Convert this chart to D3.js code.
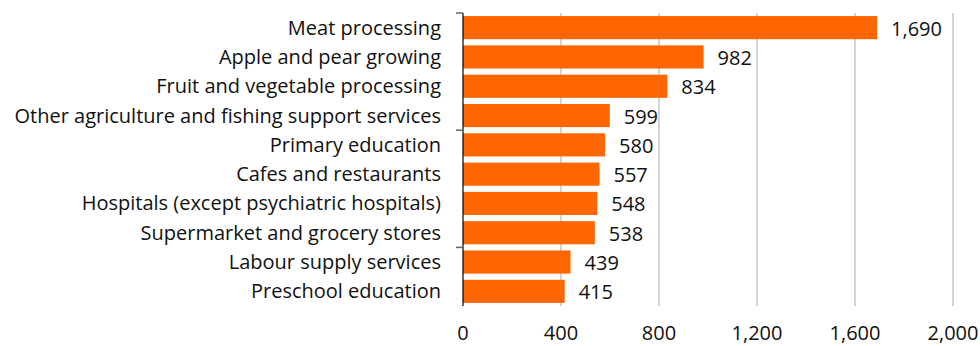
<!DOCTYPE html>
<html>
<head>
<meta charset="utf-8">
<script src="https://cdn.jsdelivr.net/npm/d3@7"></script>
<style>
  html, body { margin: 0; padding: 0; background: #fff; }
  svg text { font-family: "Open Sans", "Noto Sans", sans-serif; fill: #111; }
</style>
</head>
<body>
<svg id="chart" width="980" height="346"></svg>
<script>
// Employment by industry
const categories = [
  "Meat processing",
  "Apple and pear growing",
  "Fruit and vegetable processing",
  "Other agriculture and fishing support services",
  "Primary education",
  "Cafes and restaurants",
  "Hospitals (except psychiatric hospitals)",
  "Supermarket and grocery stores",
  "Labour supply services",
  "Preschool education"
];
const values = [1690, 982, 834, 599, 580, 557, 548, 538, 439, 415];
const xTicks = [0, 400, 800, 1200, 1600, 2000];

const svg = d3.select("#chart");
const margin = { left: 463, right: 27, top: 13, bottom: 40 };
const W = 980, H = 346;
const fontSize = 20;

const x = d3.scaleLinear().domain([0, 2000]).range([margin.left, W - margin.right]);
const y = d3.scaleBand().domain(categories).range([margin.top, H - margin.bottom])
  .paddingInner(0.21).paddingOuter(0.105);

// vertical gridlines
svg.append("g").selectAll("line")
  .data(xTicks.filter(d => d > 0))
  .join("line")
  .attr("x1", d => x(d)).attr("x2", d => x(d))
  .attr("y1", margin.top).attr("y2", H - margin.bottom)
  .attr("stroke", "#c6c6c6").attr("stroke-width", 1.5);

// bars
svg.append("g").selectAll("rect")
  .data(values)
  .join("rect")
  .attr("x", x(0))
  .attr("y", (d, i) => y(categories[i]))
  .attr("width", d => x(d) - x(0))
  .attr("height", y.bandwidth())
  .attr("fill", "#ff6600");

// value labels
const fmt = d3.format(",");
svg.append("g").selectAll("text")
  .data(values)
  .join("text")
  .attr("x", d => x(d) + 14)
  .attr("y", (d, i) => y(categories[i]) + y.bandwidth() / 2 + 1)
  .attr("dy", "0.35em")
  .attr("font-size", fontSize)
  .text(d => fmt(d));

// category labels
svg.append("g").selectAll("text")
  .data(categories)
  .join("text")
  .attr("x", x(0) - 22)
  .attr("y", d => y(d) + y.bandwidth() / 2)
  .attr("dy", "0.35em")
  .attr("text-anchor", "end")
  .attr("font-size", fontSize)
  .text(d => d);

// category axis: line with a tick every four categories
const step = y.step();
const axisG = svg.append("g");
axisG.append("line")
  .attr("x1", x(0)).attr("x2", x(0))
  .attr("y1", margin.top).attr("y2", H - margin.bottom)
  .attr("stroke", "#000").attr("stroke-width", 1.2);
axisG.selectAll("line.tick")
  .data(d3.range(0, categories.length + 1, 4))
  .join("line")
  .attr("class", "tick")
  .attr("x1", x(0) - 7).attr("x2", x(0))
  .attr("y1", i => margin.top + i * step).attr("y2", i => margin.top + i * step)
  .attr("stroke", "#666").attr("stroke-width", 1.5);

// value axis labels
svg.append("g").selectAll("text")
  .data(xTicks)
  .join("text")
  .attr("x", d => x(d))
  .attr("y", 333)
  .attr("dy", "0.35em")
  .attr("text-anchor", "middle")
  .attr("font-size", fontSize)
  .text(d => fmt(d));
</script>
</body>
</html>
